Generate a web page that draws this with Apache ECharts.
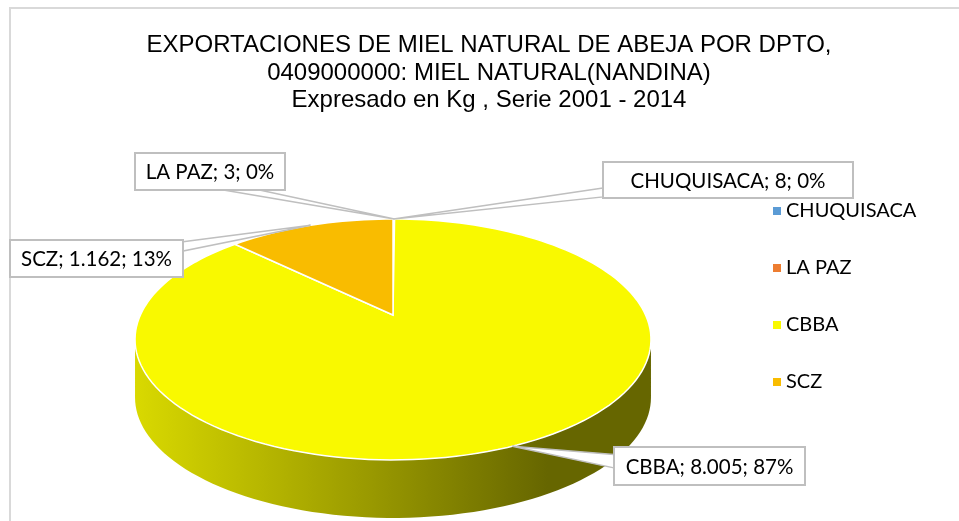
<!DOCTYPE html>
<head>
<meta charset="utf-8">
<title>ECharts</title>
</head>
<body style="margin:0">
<div id="main" style="width: 959px; height: 521px"></div>
<script src="https://cdn.jsdelivr.net/npm/echarts@6/dist/echarts.min.js"></script>
<script>
// datos
var categories = ['CHUQUISACA', 'LA PAZ', 'CBBA', 'SCZ'];
var values = [8, 3, 8005, 1162];
var colors = ['#5B9BD5', '#ED7D31', '#F9F900', '#F9BC00'];

// pie 3d en perspectiva - layout
var x0 = 393, y0 = 315, A = 252.6, B = 115.5, k = 0.203, depth = 58;
// caja de cada etiqueta: x, y, ancho, alto
var labelBoxes = [[603, 162, 250, 36], [135, 153, 150, 37], [614, 447, 191, 38], [10, 240, 173, 37]];
// donde sale la flecha de la caja
var labelAttach = [['left', 0.72, 0.97], ['bottom', 0.59, 0.83], ['left', 0.2, 0.55], ['right', 0.05, 0.3]];

var total = values.reduce(function (a, b) { return a + b; }, 0);
var starts = [];
var acc = 0;
values.forEach(function (v) { starts.push(acc / total * 360); acc += v; });

// angulos visibles del lado (silueta)
var sideFrom = 90 + Math.asin(k) * 180 / Math.PI, sideTo = 360 - sideFrom;
var halfW = A / Math.sqrt(1 - k * k);

function fmt(v) {
    return String(v).replace(/\B(?=(\d{3})+(?!\d))/g, '.');
}
function pt(a, dy) {
    var r = a * Math.PI / 180;
    var u = Math.sin(r), v = Math.cos(r), w = 1 + k * v;
    return [x0 + A * u / w, y0 - B * v / w + (dy || 0)];
}
function arc(a0, a1, dy) {
    var n = Math.max(2, Math.ceil((a1 - a0) / 2));
    var pts = [];
    for (var j = 0; j <= n; j++) pts.push(pt(a0 + (a1 - a0) * j / n, dy));
    return pts;
}
function shade(hex, f) {
    var n = parseInt(hex.slice(1), 16);
    var r = Math.round(((n >> 16) & 255) * f), g = Math.round(((n >> 8) & 255) * f), b = Math.round((n & 255) * f);
    return 'rgb(' + r + ',' + g + ',' + b + ')';
}
function boxPoint(box, side, f) {
    if (side === 'left') return [box[0], box[1] + box[3] * f];
    if (side === 'right') return [box[0] + box[2], box[1] + box[3] * f];
    if (side === 'bottom') return [box[0] + box[2] * f, box[1] + box[3]];
    return [box[0] + box[2] * f, box[1]];
}

function renderSlice(i) {
    return function (params, api) {
        var a0 = starts[i], a1 = a0 + values[i] / total * 360;
        var children = [];
        var s = Math.max(a0, sideFrom), e = Math.min(a1, sideTo);
        if (e > s) {
            var top = arc(s, e, 0), bottom = arc(s, e, depth).reverse();
            children.push({
                type: 'polygon',
                shape: { points: top.concat(bottom) },
                style: {
                    fill: new echarts.graphic.LinearGradient(x0 - halfW, 0, x0 + halfW, 0, [
                        { offset: 0, color: shade(colors[i], 0.87) },
                        { offset: 0.45, color: shade(colors[i], 0.62) },
                        { offset: 0.8, color: shade(colors[i], 0.41) },
                        { offset: 1, color: shade(colors[i], 0.41) }
                    ], true)
                }
            });
        }
        children.push({
            type: 'polygon',
            shape: { points: [[x0, y0]].concat(arc(a0, a1, 0)) },
            style: { fill: colors[i], stroke: '#fff', lineWidth: 1.5 }
        });
        // etiqueta con flecha
        var box = labelBoxes[i], at = labelAttach[i];
        var anchor = pt((a0 + a1) / 2, 0);
        children.push({
            type: 'polygon', z2: 100,
            shape: { points: [boxPoint(box, at[0], at[1]), anchor, boxPoint(box, at[0], at[2])] },
            style: { fill: '#fff', stroke: '#bfbfbf', lineWidth: 1.5 }
        });
        children.push({
            type: 'rect', z2: 101,
            shape: { x: box[0], y: box[1], width: box[2], height: box[3] },
            style: { fill: '#fff', stroke: '#bfbfbf', lineWidth: 2 }
        });
        children.push({
            type: 'text', z2: 102,
            style: {
                x: box[0] + box[2] / 2, y: box[1] + box[3] / 2 + 1,
                text: categories[i] + '; ' + fmt(values[i]) + '; ' + Math.round(values[i] / total * 100) + '%',
                align: 'center', verticalAlign: 'middle',
                fill: '#000', font: '20.5px Lato'
            }
        });
        return { type: 'group', children: children };
    };
}

var myChart = echarts.init(document.getElementById('main'));
myChart.setOption({
    animation: false,
    title: {
        text: 'EXPORTACIONES DE MIEL NATURAL DE ABEJA POR DPTO,\n0409000000: MIEL NATURAL(NANDINA)\nExpresado en Kg , Serie 2001 - 2014',
        left: 484,
        top: 27,
        textAlign: 'center',
        textStyle: {
            fontFamily: 'Liberation Sans',
            fontSize: 24,
            fontWeight: 'normal',
            lineHeight: 27.5,
            color: '#000'
        }
    },
    legend: {
        orient: 'vertical',
        left: 768,
        top: 196,
        icon: 'rect',
        itemWidth: 8,
        itemHeight: 8,
        itemGap: 37,
        selectedMode: false,
        data: categories,
        textStyle: { fontFamily: 'Lato', fontSize: 20, color: '#000' }
    },
    graphic: [{
        type: 'polyline',
        z: -1,
        shape: { points: [[10, 521], [10, 8], [959, 8]] },
        style: { stroke: '#d9d9d9', lineWidth: 2, fill: null }
    }],
    series: categories.map(function (name, i) {
        return {
            name: name,
            type: 'custom',
            coordinateSystem: 'none',
            itemStyle: { color: colors[i] },
            data: [[values[i]]],
            renderItem: renderSlice(i)
        };
    })
});
</script>
</body>
</html>
